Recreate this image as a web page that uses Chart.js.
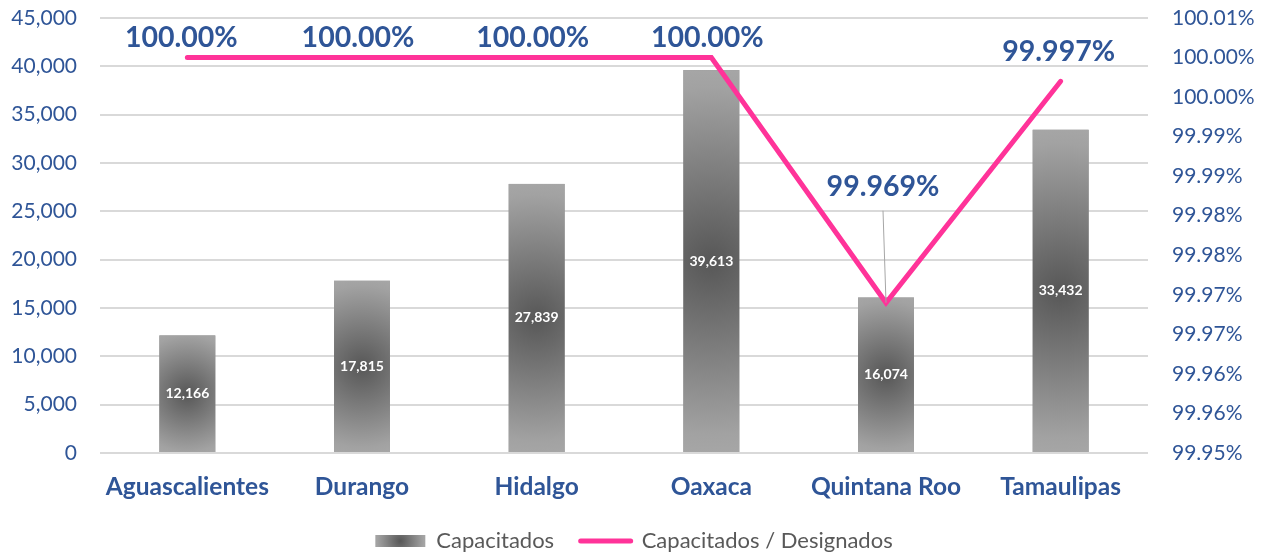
<!DOCTYPE html>
<html>
<head>
<meta charset="utf-8">
<script src="https://cdn.jsdelivr.net/npm/chart.js@4/dist/chart.umd.min.js"></script>
<style>
html,body{margin:0;padding:0;background:#fff;}
#wrap{width:1268px;height:556px;position:relative;}
</style>
</head>
<body>
<div id="wrap"><canvas id="c" width="1268" height="556"></canvas></div>
<script>
const categories = ['Aguascalientes','Durango','Hidalgo','Oaxaca','Quintana Roo','Tamaulipas'];
const capacitados = [12166, 17815, 27839, 39613, 16074, 33432];
const ratioPct = [100.000, 100.000, 100.000, 100.000, 99.969, 99.997];
const ratioLabels = ['100.00%','100.00%','100.00%','100.00%','99.969%','99.997%'];
const rightTickLabels = ['99.95%','99.96%','99.96%','99.97%','99.97%','99.98%','99.98%','99.99%','99.99%','100.00%','100.00%','100.01%'];
const seriesNames = ['Capacitados', 'Capacitados / Designados'];

const BLUE = '#2F5597';
const PINK = '#FF3399';
const FONT = 'Lato, "Open Sans", sans-serif';
const LEGEND_SIZE = 22;

// label offsets (style only)
const lineLabelOffsets = [[-6,-20],[-4,-20],[-4,-20],[-4,-20],[-3,-116],[-2,-29]];

function fillGradRect(ctx, x, y, w, h) {
  const cx = x + w / 2, cy = y + h / 2;
  const r = Math.sqrt((w / 2) * (w / 2) + (h / 2) * (h / 2));
  const g = ctx.createRadialGradient(cx, cy, 0, cx, cy, r);
  g.addColorStop(0, '#575757');
  g.addColorStop(0.9, '#a2a2a2');
  g.addColorStop(1, '#a6a6a6');
  ctx.fillStyle = g;
  ctx.fillRect(x, y, w, h);
}

const barGradientPlugin = {
  id: 'barGradient',
  afterDatasetDraw(chart, args) {
    if (args.index !== 0) return;
    const ctx = chart.ctx;
    const meta = chart.getDatasetMeta(0);
    meta.data.forEach((el, i) => {
      const w = el.width, top = Math.min(el.y, el.base), h = Math.abs(el.base - el.y);
      ctx.save();
      fillGradRect(ctx, el.x - w / 2, top, w, h);
      ctx.fillStyle = '#ffffff';
      ctx.font = 'bold 14px ' + FONT;
      ctx.textAlign = 'center';
      ctx.textBaseline = 'middle';
      ctx.fillText(capacitados[i].toLocaleString('en-US'), el.x, top + h / 2);
      ctx.restore();
    });
  },
  afterDatasetsDraw(chart) {
    const ctx = chart.ctx;
    const meta = chart.getDatasetMeta(1);
    meta.data.forEach((pt, i) => {
      const [dx, dy] = lineLabelOffsets[i];
      const lx = pt.x + dx, ly = pt.y + dy;
      ctx.save();
      if (Math.abs(dy) > 60) {
        ctx.strokeStyle = '#a6a6a6';
        ctx.lineWidth = 1;
        ctx.beginPath();
        ctx.moveTo(lx, ly + 24);
        ctx.lineTo(pt.x, pt.y);
        ctx.stroke();
      }
      ctx.fillStyle = BLUE;
      ctx.font = 'bold 28.5px ' + FONT;
      ctx.textAlign = 'center';
      ctx.textBaseline = 'middle';
      ctx.fillText(ratioLabels[i], lx, ly);
      ctx.restore();
    });
  },
  afterDraw(chart) {
    const lg = chart.legend;
    if (!lg || !lg.legendHitBoxes || !lg.legendHitBoxes.length) return;
    const hb = lg.legendHitBoxes[0];
    const ctx = chart.ctx;
    ctx.save();
    ctx.fillStyle = '#fff';
    const y = hb.top + LEGEND_SIZE / 2 - 6;
    ctx.fillRect(hb.left - 1, y - 1, 52, 14);
    fillGradRect(ctx, hb.left, y, 50, 12);
    ctx.restore();
  }
};

function fixVertical(width) {
  return function (s) {
    s.width = width;
    s.paddingTop = 18;
    s.paddingBottom = 0;
  };
}

new Chart(document.getElementById('c'), {
  type: 'bar',
  data: {
    labels: categories,
    datasets: [
      {
        type: 'bar',
        label: seriesNames[0],
        data: capacitados,
        backgroundColor: '#8c8c8c',
        yAxisID: 'y',
        categoryPercentage: 1,
        barPercentage: 0.32,
        order: 2
      },
      {
        type: 'line',
        label: seriesNames[1],
        data: ratioPct,
        borderColor: PINK,
        backgroundColor: PINK,
        borderWidth: 5,
        borderCapStyle: 'round',
        borderJoinStyle: 'miter',
        pointRadius: 0,
        tension: 0,
        yAxisID: 'y2',
        order: 1
      }
    ]
  },
  plugins: [barGradientPlugin],
  options: {
    responsive: false,
    animation: false,
    devicePixelRatio: 1,
    layout: { padding: { top: 0, left: 0, right: 0, bottom: -6 } },
    plugins: {
      tooltip: { enabled: false },
      legend: {
        position: 'bottom',
        labels: {
          color: '#595959',
          font: { family: FONT, size: LEGEND_SIZE },
          usePointStyle: true,
          pointStyleWidth: 50,
          boxHeight: 12,
          padding: 4,
          generateLabels(chart) {
            return [
              { text: seriesNames[0] + '    ', fillStyle: '#8a8a8a', strokeStyle: '#8a8a8a', lineWidth: 0, pointStyle: 'rect', datasetIndex: 0, fontColor: '#595959' },
              { text: seriesNames[1], fillStyle: PINK, strokeStyle: PINK, lineWidth: 5, lineCap: 'round', pointStyle: 'line', datasetIndex: 1, fontColor: '#595959' }
            ];
          }
        }
      }
    },
    scales: {
      x: {
        grid: { display: false, drawTicks: false },
        border: { display: false },
        ticks: { color: BLUE, font: { family: FONT, size: 24.5, weight: 'bold' }, padding: 19 },
        afterFit(s) { s.height = 73; }
      },
      y: {
        position: 'left',
        min: 0, max: 45000,
        ticks: { stepSize: 5000, color: BLUE, font: { family: FONT, size: 21 }, padding: 23,
          callback: v => v.toLocaleString('en-US') },
        grid: { color: '#d9d9d9', lineWidth: 2, drawTicks: false },
        border: { display: false },
        afterFit: fixVertical(100)
      },
      y2: {
        position: 'right',
        min: 99.95, max: 100.005,
        ticks: { stepSize: 0.005, color: BLUE, font: { family: FONT, size: 21 }, padding: 24,
          callback: (v, i) => rightTickLabels[i] },
        grid: { display: false, drawTicks: false },
        border: { display: false },
        afterFit: fixVertical(120)
      }
    }
  }
});
</script>
</body>
</html>
